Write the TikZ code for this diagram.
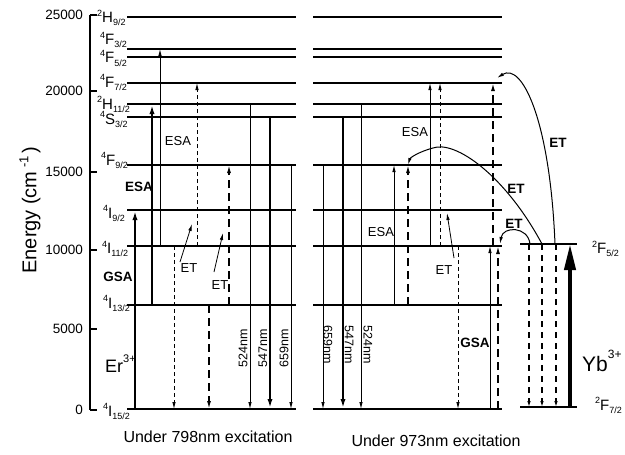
\documentclass[tikz,border=0pt]{standalone}
\usepackage{fontspec}
\setmainfont{Liberation Sans}
\usetikzlibrary{arrows.meta}
\newcommand\lvlab[3]{\raisebox{6.5pt}{\fontsize{9}{9}\selectfont #1}{\fontsize{15}{15}\selectfont #2}\raisebox{-3pt}{\fontsize{9}{9}\selectfont #3}}
\newcommand\vArr[4][]{\draw[#1] (#2,#3) -- (#2,#4);}
\begin{document}
\begin{tikzpicture}[x=1pt,y=-1pt,
  lvl/.style={line width=1.2pt},
  thinar/.style={line width=0.8pt,-{Latex[length=7pt,width=3.5pt]}},
  thickar/.style={line width=2pt,-{Latex[length=10pt,width=5pt]}},
  sdash/.style={line width=0.8pt,-{Latex[length=7pt,width=3.5pt]},dash pattern=on 4pt off 3pt},
  ldash/.style={line width=1.4pt,-{Latex[length=8pt,width=4pt]},dash pattern=on 8pt off 5pt},
  ydash/.style={line width=1.1pt,-{Latex[length=6pt,width=3.5pt]},dash pattern=on 6pt off 5pt},
  lab/.style={font=\fontsize{13}{13}\selectfont,inner sep=0pt},
  blab/.style={font=\fontsize{13.5}{13.5}\selectfont\bfseries,inner sep=0pt},
  tick/.style={font=\fontsize{13.5}{13.5}\selectfont,inner sep=0pt,anchor=east},
  em/.style={font=\fontsize{12.5}{12.5}\selectfont,inner sep=0pt},
  lvn/.style={inner sep=0pt,anchor=base west}]
\useasboundingbox (0,0) rectangle (625,455);
% axis
\draw[line width=1.2pt] (90,15) -- (90,410);
\foreach \yy/\tt [count=\i] in {15/25000,91/20000,172/15000,250/10000,329/5000,410/0}{
  \draw[line width=1.2pt] (90,\yy) -- (97,\yy);
  \node[tick] (t\i) at (83,\yy) {\tt};
}
\node[rotate=90,inner sep=0pt,font=\fontsize{20}{20}\selectfont] (ylab) at (30,210) {Energy (cm\,\raisebox{8pt}{\fontsize{13}{13}\selectfont -1}\,)};
% levels
\foreach \yy in {17,83,104,117,165,210,246,305,409}{
  \draw[lvl] (127,\yy) -- (296,\yy);
  \draw[lvl] (313,\yy) -- (502,\yy);
}
\foreach \yy in {49,57}{
  \draw[line width=1.6pt] (127,\yy) -- (296,\yy);
  \draw[line width=1.6pt] (313,\yy) -- (502,\yy);
}
\draw[lvl] (520,244) -- (577,244);
\draw[lvl] (520,407) -- (577,407);
% level labels
\node[lvn] (l1) at (97,23) {\lvlab{2}{H}{9/2}};
\node[lvn] (l2) at (100,45) {\lvlab{4}{F}{3/2}};
\node[lvn] (l3) at (100,63) {\lvlab{4}{F}{5/2}};
\node[lvn] (l4) at (100,87) {\lvlab{4}{F}{7/2}};
\node[lvn] (l5) at (97,109) {\lvlab{2}{H}{11/2}};
\node[lvn] (l6) at (100,124) {\lvlab{4}{S}{3/2}};
\node[lvn] (l7) at (101,165) {\lvlab{4}{F}{9/2}};
\node[lvn] (l8) at (103,218) {\lvlab{4}{I}{9/2}};
\node[lvn] (l9) at (102,253.5) {\lvlab{4}{I}{11/2}};
\node[lvn] (l10) at (103,308) {\lvlab{4}{I}{13/2}};
\node[lvn] (l11) at (103,416) {\lvlab{4}{I}{15/2}};
\node[lvn] (y1) at (592,253.5) {\lvlab{2}{F}{5/2}};
\node[lvn] (y2) at (595,410) {\lvlab{2}{F}{7/2}};
\node[lvn] (er) at (105,372) {{\fontsize{18}{18}\selectfont Er}\raisebox{10pt}{\fontsize{11}{11}\selectfont 3+}};
\node[lvn] (yb) at (582,371) {{\fontsize{21}{21}\selectfont Yb}\raisebox{13pt}{\fontsize{12}{12}\selectfont 3+}};
% ---- left panel arrows
\vArr[thickar]{135}{409}{210}
\vArr[thickar]{152}{305}{104}
\vArr[thinar]{160}{246}{49}
\vArr[sdash]{197}{246}{83}
\vArr[ldash]{229}{305}{165}
\vArr[sdash]{174}{246}{409}
\vArr[ldash]{209}{305}{409}
\vArr[thinar]{250}{104}{409}
\vArr[thickar]{270}{117}{409}
\vArr[thinar]{291}{165}{409}
\draw[thinar] (180,262) -- (192,224);
\draw[thinar] (214,272) -- (223,233);
\node[blab] (gsa1) at (118,277) {GSA};
\node[blab] (esa1) at (139,187) {ESA};
\node[lab] (esa2) at (178,141) {ESA};
\node[lab] (et1) at (189,268) {ET};
\node[lab] (et2) at (220,285) {ET};
\node[em,rotate=90] (w1) at (243,348) {524nm};
\node[em,rotate=90] (w2) at (263,348) {547nm};
\node[em,rotate=90] (w3) at (284,348) {659nm};
% ---- right panel arrows
\vArr[thinar]{323}{165}{409}
\vArr[thickar]{343}{117}{409}
\vArr[thinar]{361}{104}{409}
\vArr[thinar]{394}{305}{165}
\vArr[ldash]{408}{305}{165}
\vArr[thinar]{430}{246}{83}
\vArr[sdash]{440}{246}{83}
\vArr[sdash]{458}{246}{409}
\vArr[thinar]{490}{409}{246}
\vArr[ldash]{498}{409}{246}
\vArr[ldash]{493}{246}{83}
\draw[thinar] (454,258) -- (447,213);
\node[em,rotate=-90] (w4) at (328,345) {659nm};
\node[em,rotate=-90] (w5) at (349,345) {547nm};
\node[em,rotate=-90] (w6) at (368,345) {524nm};
\node[lab] (esa3) at (415,132) {ESA};
\node[lab] (esa4) at (381,232) {ESA};
\node[lab] (et3) at (444,270) {ET};
\node[blab] (gsa2) at (475,343) {GSA};
% ---- Yb
\vArr[ydash]{529}{244}{407}
\vArr[ydash]{542}{244}{407}
\vArr[ydash]{556}{244}{407}
\draw[line width=4pt,-{Triangle[length=26pt,width=11pt]}] (570,407) -- (570,244);
\draw[thinar,line width=1pt] (555,244) .. controls (550,120) and (522,62) .. (497,78);
\draw[thinar,line width=1pt] (542,244) .. controls (505,175) and (455,140) .. (433,148) .. controls (418,152) and (410,158) .. (408,165);
\draw[thinar,line width=1pt] (530,244) .. controls (528,226) and (503,226) .. (500,244);
\node[blab] (et4) at (558,143) {ET};
\node[blab] (et5) at (516,189) {ET};
\node[blab] (et6) at (514,224) {ET};
% bottom
\node[inner sep=0pt,font=\fontsize{16}{16}\selectfont] (c1) at (208,437) {Under 798nm excitation};
\node[inner sep=0pt,font=\fontsize{16}{16}\selectfont] (c2) at (436,441) {Under 973nm excitation};
\end{tikzpicture}
\end{document}
